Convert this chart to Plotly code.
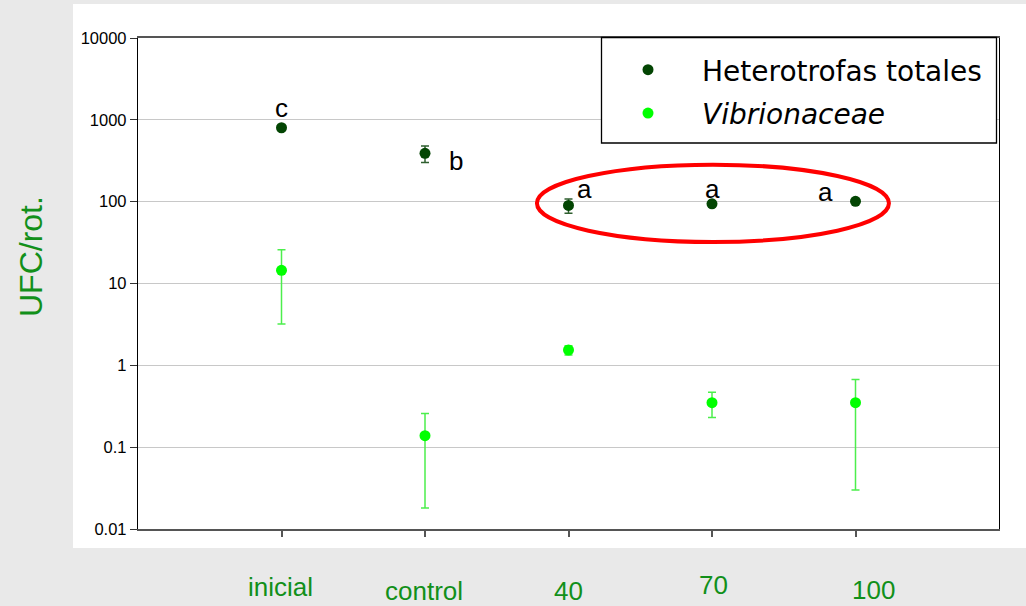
import math
import plotly.graph_objects as go

# ---------------- data ----------------
categories = ["inicial", "control", "40", "70", "100"]
het_values = [800, 390, 90, 94, 101]
het_errors = [0, 90, 18, 0, 0]
vib_values = [14.5, 0.138, 1.54, 0.35, 0.35]
vib_errors = [11.3, 0.12, 0.2, 0.12, 0.32]
sig_letters = ["c", "b", "a", "a", "a"]
y_tickvals = [0.01, 0.1, 1, 10, 100, 1000, 10000]
y_ticktext = ["0.01", "0.1", "1", "10", "100", "1000", "10000"]
series_names = ["Heterotrofas totales", "Vibrionaceae"]
y_title = "UFC/rot."

# ---------------- styles ----------------
W, H = 1026, 606
L, R, T, B = 138, 27, 38, 77
pw, ph = W - L - R, H - T - B

def px_x(x):
    return (x - L) / pw

def px_y(y):
    return (H - B - y) / ph

DARK = "#034503"
BRIGHT = "#00ff00"
LABEL_GREEN = "#12901a"

# letter offsets (px) relative to the points they label
letter_shift = [(0, 20), (31, -8), (16, 16), (0, 15), (-30, 9)]
# x category label offsets (px)
label_xshift = [-1, -1, 0, 1, 18]
label_ypx = [587, 591, 591, 585, 590]

fig = go.Figure()

fig.add_trace(go.Scatter(
    x=categories, y=het_values, mode="markers", name=series_names[0],
    legendgroup="g1",
    marker=dict(color=DARK, size=11),
    error_y=dict(type="data", array=het_errors, visible=True,
                 color="#2f5f2f", thickness=1.5, width=4),
))
fig.add_trace(go.Scatter(
    x=categories, y=vib_values, mode="markers",
    name="<i>" + series_names[1] + "</i>",
    legendgroup="g2",
    marker=dict(color=BRIGHT, size=11),
    error_y=dict(type="data", array=vib_errors, visible=True,
                 color="#4cee4c", thickness=1.5, width=4),
))

annotations = []
for i, (val, letter, (dx, dy)) in enumerate(zip(het_values, sig_letters, letter_shift)):
    annotations.append(dict(
        x=i, y=math.log10(val), xref="x", yref="y", text=letter,
        showarrow=False, xshift=dx, yshift=dy,
        font=dict(family="Liberation Sans, Arial, sans-serif", size=26, color="black"),
    ))
for i, (cat, dx, ypx) in enumerate(zip(categories, label_xshift, label_ypx)):
    annotations.append(dict(
        x=i, y=px_y(ypx), xref="x", yref="paper", text=cat,
        showarrow=False, xshift=dx, yanchor="middle",
        font=dict(family="Liberation Sans, Arial, sans-serif",
                  size=26, color=LABEL_GREEN),
    ))
annotations.append(dict(
    x=px_x(31), y=px_y(257), xref="paper", yref="paper", text=y_title,
    showarrow=False, textangle=-90, xanchor="center", yanchor="middle",
    font=dict(family="Liberation Sans, Arial, sans-serif", size=32, color=LABEL_GREEN),
))

shapes = [
    # white panel
    dict(type="rect", xref="paper", yref="paper", layer="below",
         x0=px_x(73), x1=px_x(1030), y0=px_y(548), y1=px_y(4),
         fillcolor="white", line=dict(width=0)),
    # legend box
    dict(type="rect", xref="paper", yref="paper", layer="above",
         x0=px_x(601.5), x1=px_x(996.5), y0=px_y(143), y1=px_y(37.5),
         fillcolor="white", line=dict(color="black", width=1.3)),
    # red ellipse
    dict(type="circle", xref="x", yref="paper", layer="above",
         x0=1.780, x1=4.233, y0=px_y(242), y1=px_y(164.7),
         line=dict(color="#ff0000", width=4)),
]

fig.update_layout(
    width=W, height=H,
    margin=dict(l=L, r=R, t=T, b=B, pad=0),
    paper_bgcolor="#e9e9e9",
    plot_bgcolor="white",
    showlegend=True,
    legend=dict(
        x=px_x(594), y=px_y(45), xanchor="left", yanchor="top",
        bgcolor="rgba(0,0,0,0)", borderwidth=0,
        itemwidth=98, tracegroupgap=4,
        font=dict(family="DejaVu Sans, Verdana, sans-serif", size=28, color="black"),
    ),
    xaxis=dict(
        type="category", range=[-1, 5], showgrid=False,
        showline=True, linecolor="#555555", linewidth=1.5, mirror=True,
        ticks="outside", ticklen=6, tickcolor="#555555", tickwidth=1.5,
        showticklabels=False, zeroline=False,
    ),
    yaxis=dict(
        type="log", range=[-2, 4],
        tickvals=y_tickvals, ticktext=y_ticktext,
        showgrid=True, gridcolor="#c8c8c8", gridwidth=1,
        showline=True, linecolor="black", linewidth=1.3, mirror=True,
        ticks="outside", ticklen=7, tickcolor="#333333",
        tickfont=dict(family="Liberation Sans, Arial, sans-serif", size=16.5, color="black"),
        zeroline=False,
    ),
    annotations=annotations,
    shapes=shapes,
)

fig.write_html(
    "out.html",
    config={"displayModeBar": False},
    post_script="document.body.style.margin='0';document.body.style.overflow='hidden';",
)
